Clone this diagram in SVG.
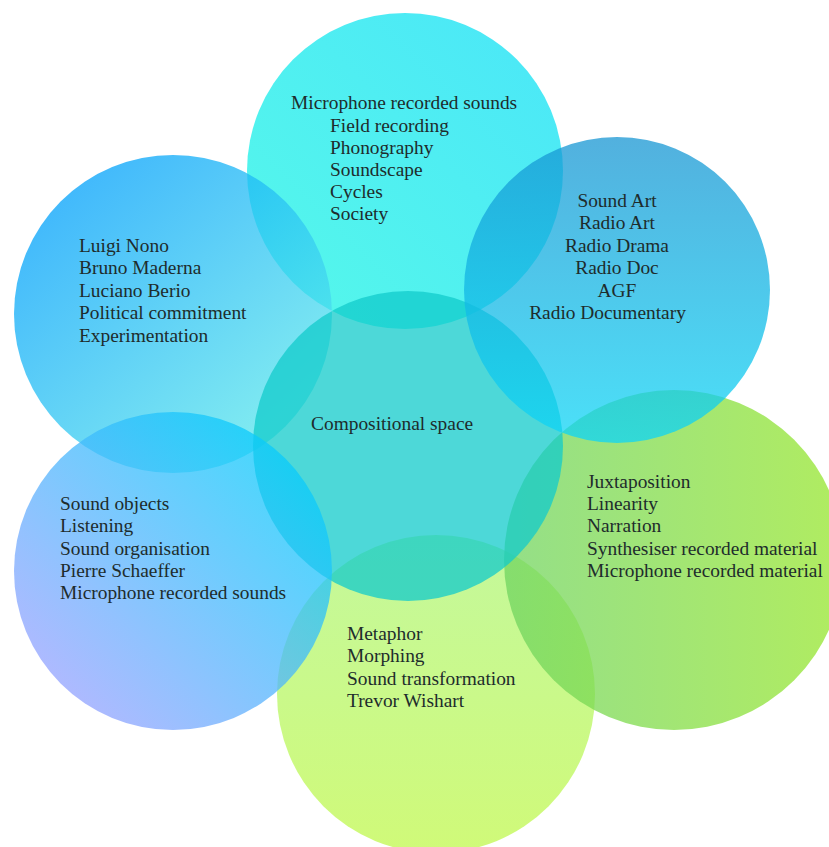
<svg xmlns="http://www.w3.org/2000/svg" width="829" height="847" viewBox="0 0 829 847">
<defs>
<linearGradient id="gTop" x1="1" y1="0" x2="0" y2="1">
<stop offset="0" stop-color="rgb(14,222,246)"/>
<stop offset="1" stop-color="rgb(28,246,226)"/>
</linearGradient>
<linearGradient id="gUR" x1="0" y1="0" x2="0" y2="1">
<stop offset="0" stop-color="rgb(24,150,211)"/>
<stop offset="1" stop-color="rgb(14,214,246)"/>
</linearGradient>
<linearGradient id="gLU" x1="0.15" y1="0.1" x2="0.85" y2="0.9">
<stop offset="0" stop-color="rgb(0,160,251)"/>
<stop offset="1" stop-color="rgb(90,232,235)"/>
</linearGradient>
<linearGradient id="gLL" x1="0.1" y1="0.9" x2="0.9" y2="0.1">
<stop offset="0" stop-color="rgb(155,160,255)"/>
<stop offset="1" stop-color="rgb(0,205,251)"/>
</linearGradient>
<linearGradient id="gRL" x1="0" y1="0" x2="1" y2="0">
<stop offset="0" stop-color="rgb(112,212,96)"/>
<stop offset="1" stop-color="rgb(150,230,43)"/>
</linearGradient>
<linearGradient id="gBot" x1="0" y1="0" x2="0" y2="1">
<stop offset="0" stop-color="rgb(176,246,123)"/>
<stop offset="1" stop-color="rgb(192,248,75)"/>
</linearGradient>
</defs>
<style>
circle { fill-opacity: 0.75; stroke: none; }
text { font-family: "Liberation Serif", "DejaVu Serif", serif; font-size: 19.4px; fill: #1e2c2c; }
.c { text-anchor: middle; }
</style>
<g id="node-top">
<circle cx="405" cy="171" r="158" fill="url(#gTop)"/>
<text x="291" y="109">Microphone recorded sounds</text>
<text x="330" y="131.5">Field recording</text>
<text x="330" y="153.5">Phonography</text>
<text x="330" y="175.7">Soundscape</text>
<text x="330" y="198">Cycles</text>
<text x="330" y="220">Society</text>
</g>
<g id="node-left-upper">
<circle cx="173" cy="314" r="159" fill="url(#gLU)"/>
<text x="79" y="251.7">Luigi Nono</text>
<text x="79" y="274">Bruno Maderna</text>
<text x="79" y="296.7">Luciano Berio</text>
<text x="79" y="319">Political commitment</text>
<text x="79" y="341.7">Experimentation</text>
</g>
<g id="node-bottom">
<circle cx="436" cy="694" r="159" fill="url(#gBot)"/>
<text x="347" y="640">Metaphor</text>
<text x="347" y="662.3">Morphing</text>
<text x="347" y="685">Sound transformation</text>
<text x="347" y="706.7">Trevor Wishart</text>
</g>
<g id="node-right-lower">
<circle cx="674" cy="560" r="170" fill="url(#gRL)"/>
<text x="587" y="488.3">Juxtaposition</text>
<text x="587" y="510">Linearity</text>
<text x="587" y="531.7">Narration</text>
<text x="587" y="555">Synthesiser recorded material</text>
<text x="587" y="576.7">Microphone recorded material</text>
</g>
<g id="node-center">
<circle cx="408" cy="446" r="155" fill="rgb(18,203,203)"/>
<text x="311" y="430">Compositional space</text>
</g>
<g id="node-right-upper">
<circle cx="617" cy="290" r="153" fill="url(#gUR)"/>
<text class="c" x="617" y="207.3">Sound Art</text>
<text class="c" x="617" y="229.3">Radio Art</text>
<text class="c" x="617" y="251.7">Radio Drama</text>
<text class="c" x="617" y="274">Radio Doc</text>
<text class="c" x="617" y="296.7">AGF</text>
<text class="c" x="607.5" y="319">Radio Documentary</text>
</g>
<g id="node-left-lower">
<circle cx="173" cy="571" r="159" fill="url(#gLL)"/>
<text x="60" y="510">Sound objects</text>
<text x="60" y="532.3">Listening</text>
<text x="60" y="555">Sound organisation</text>
<text x="60" y="576.7">Pierre Schaeffer</text>
<text x="60" y="599.3">Microphone recorded sounds</text>
</g>
</svg>
